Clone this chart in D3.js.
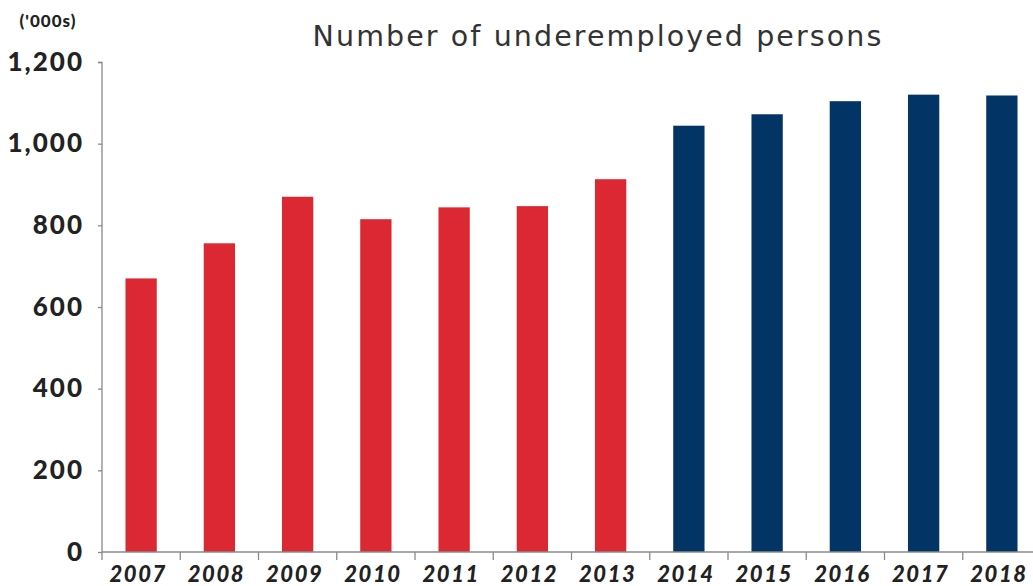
<!DOCTYPE html>
<html>
<head>
<meta charset="utf-8">
<script src="https://cdn.jsdelivr.net/npm/d3@7"></script>
<style>
  body { margin: 0; background: #fff; }
  .axis path, .axis line { stroke: #8a8a8a; stroke-width: 1.3; }
  .y.axis text { font-family: Lato, sans-serif; font-weight: 900; font-size: 26px; letter-spacing: 2px; fill: #222; }
  .x.axis text { font-family: Lato, sans-serif; font-weight: 900; font-style: italic; font-size: 22px; letter-spacing: 1.5px; fill: #222; }
</style>
</head>
<body>
<div id="chart"></div>
<script>
const years = ['2007', '2008', '2009', '2010', '2011', '2012', '2013', '2014', '2015', '2016', '2017', '2018']
const persons = [670, 756, 870, 815, 844, 847, 913, 1044, 1072, 1104, 1120, 1118]
// first 7 years red, remaining navy
const groups = ['old', 'old', 'old', 'old', 'old', 'old', 'old', 'new', 'new', 'new', 'new', 'new']
const yTicks = [0, 200, 400, 600, 800, 1000, 1200]

const COLORS = { old: '#dc2832', new: '#033466' }

const W = 1033, H = 586
const margin = { top: 62, right: -8, bottom: 34, left: 102 }
const width = W - margin.left - margin.right
const height = H - margin.top - margin.bottom

const svg = d3.select('#chart').append('svg')
  .attr('width', W)
  .attr('height', H)

const g = svg.append('g')
  .attr('transform', 'translate(' + margin.left + ',' + margin.top + ')')

const xScale = d3.scaleBand()
  .domain(years)
  .range([0, width])
  .paddingInner(0.6)
  .paddingOuter(0.3)

const yScale = d3.scaleLinear()
  .domain([0, 1200])
  .range([height, 0])

// bars
g.append('g').selectAll('rect')
  .data(years)
  .enter().append('rect')
  .attr('x', d => xScale(d))
  .attr('y', (d, i) => yScale(persons[i]))
  .attr('width', xScale.bandwidth())
  .attr('height', (d, i) => height - yScale(persons[i]))
  .attr('fill', (d, i) => COLORS[groups[i]])

// y axis
const yAxis = g.append('g')
  .attr('class', 'y axis')
  .call(d3.axisLeft(yScale).tickValues(yTicks).tickFormat(d3.format(',')).tickSize(4).tickPadding(14))
yAxis.select('.domain').attr('d', 'M-4,0.5H0V' + height)

// x axis, ticks sit on band boundaries
const step = xScale.step()
const xAxis = g.append('g')
  .attr('class', 'x axis')
  .attr('transform', 'translate(0,' + height + ')')
  .call(d3.axisBottom(xScale).tickSize(0).tickPadding(0))
xAxis.select('.domain').attr('d', 'M0,0H' + width)
xAxis.selectAll('.tick line').remove()
xAxis.selectAll('.tick').append('line')
  .attr('x1', -step / 2).attr('x2', -step / 2)
  .attr('y1', 0).attr('y2', 8)
xAxis.selectAll('.tick text').attr('dy', null).attr('y', 30).attr('dx', -3)

// units label
svg.append('text')
  .attr('x', 48)
  .attr('y', 27)
  .attr('text-anchor', 'middle')
  .style('font-family', 'Lato, sans-serif')
  .style('font-weight', 900)
  .style('font-size', '17px')
  .style('letter-spacing', '1px')
  .style('fill', '#222')
  .text("('000s)")

// title
svg.append('text')
  .attr('x', 598)
  .attr('y', 46)
  .attr('text-anchor', 'middle')
  .style('font-family', '"DejaVu Sans", sans-serif')
  .style('font-size', '28.5px')
  .style('letter-spacing', '2.1px')
  .style('fill', '#333')
  .text('Number of underemployed persons')
</script>
</body>
</html>
